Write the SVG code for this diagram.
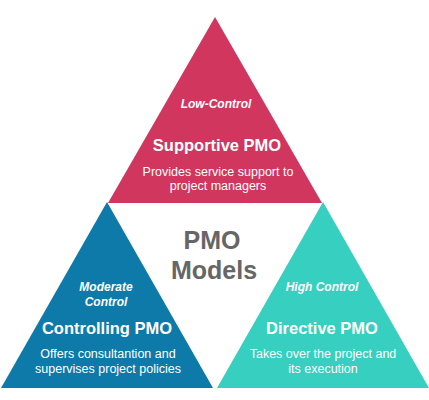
<svg xmlns="http://www.w3.org/2000/svg" width="429" height="400" viewBox="0 0 429 400">
<style>
text{font-family:"Liberation Sans",Arial,sans-serif;fill:#fff;text-anchor:middle}
.lvl{font-style:italic;font-size:12px;font-weight:bold}
.ttl{font-weight:bold;font-size:16.5px}
.dsc{font-size:12.5px}
.ctr{fill:#666;font-weight:bold;font-size:25px}
</style>
<rect width="429" height="400" fill="#fff"/>
<g id="supportive">
<polygon points="215,17 108,203 322,203" fill="#D0365E"/>
<text class="lvl" x="216" y="108">Low-Control</text>
<text class="ttl" x="217" y="151">Supportive PMO</text>
<text class="dsc" x="218" y="176">Provides service support to</text>
<text class="dsc" x="218" y="190">project managers</text>
</g>
<g id="controlling">
<polygon points="107,202 1,388 213,388" fill="#0E7AAA"/>
<text class="lvl" x="106" y="291">Moderate</text>
<text class="lvl" x="106" y="306">Control</text>
<text class="ttl" x="107" y="334">Controlling PMO</text>
<text class="dsc" x="108" y="358">Offers consultantion and</text>
<text class="dsc" x="108" y="373">supervises project policies</text>
</g>
<g id="directive">
<polygon points="323,202 217,388 429,388" fill="#36CFC0"/>
<text class="lvl" x="322" y="291">High Control</text>
<text class="ttl" x="322" y="334">Directive PMO</text>
<text class="dsc" x="323" y="358">Takes over the project and</text>
<text class="dsc" x="323" y="373">its execution</text>
</g>
<g id="center">
<text class="ctr" x="212" y="249">PMO</text>
<text class="ctr" x="214" y="279">Models</text>
</g>
<g id="connectors"></g>
</svg>
